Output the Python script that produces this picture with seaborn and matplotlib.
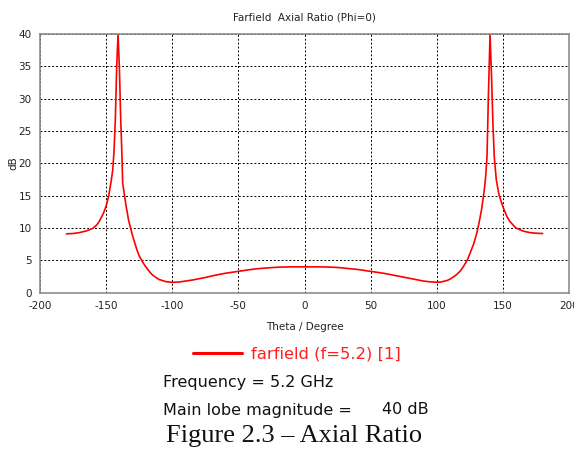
import matplotlib
matplotlib.use("Agg")
import matplotlib.pyplot as plt
import seaborn as sns
import pandas as pd

# Axial ratio (dB) versus theta (deg), Phi = 0 cut at f = 5.2 GHz
theta = [-180, -175, -170, -165, -160, -157, -155, -152, -150, -148, -146, -145,
         -144, -143, -142, -141, -140, -139, -138, -137.5, -135, -133, -130, -127,
         -125, -122, -120, -117, -115, -112, -110, -105, -100, -95, -90, -85, -80,
         -75, -70, -65, -60, -55, -50, -45, -40, -35, -30, -25, -20, -15, -10, -5,
         0, 5, 10, 15, 20, 25, 30, 35, 40, 45, 50, 55, 60, 65, 70, 75, 80, 85, 90,
         95, 100, 103, 105, 108, 110, 113, 115, 118, 120, 123, 125, 128, 130, 132,
         134, 136, 137, 138, 139, 140.3, 141.5, 142.5, 143.5, 145, 147, 150, 153,
         155, 158, 160, 165, 170, 175, 180]
axial_ratio = [9.1, 9.15, 9.3, 9.55, 9.95, 10.5, 11.1, 12.3, 13.4, 15.0, 17.5, 19.0,
               22.0, 27.0, 35.0, 40.0, 35.0, 27.0, 21.0, 17.0, 13.5, 11.2, 8.8, 6.8,
               5.7, 4.6, 4.0, 3.2, 2.75, 2.3, 2.05, 1.72, 1.6, 1.65, 1.8, 1.95, 2.15,
               2.35, 2.6, 2.8, 3.0, 3.15, 3.3, 3.45, 3.6, 3.72, 3.8, 3.88, 3.94, 3.97,
               4.0, 4.0, 4.0, 4.0, 4.0, 3.98, 3.95, 3.9, 3.8, 3.7, 3.6, 3.45, 3.3,
               3.15, 3.0, 2.8, 2.6, 2.4, 2.2, 2.0, 1.8, 1.68, 1.62, 1.65, 1.75, 1.9,
               2.1, 2.5, 2.8, 3.4, 4.0, 5.0, 6.0, 7.6, 9.0, 10.8, 13.0, 16.0, 18.0,
               21.0, 30.0, 40.0, 33.0, 26.0, 21.0, 17.5, 15.2, 13.3, 11.8, 11.1, 10.4,
               10.0, 9.55, 9.3, 9.2, 9.15]

x_ticks = [-200, -150, -100, -50, 0, 50, 100, 150, 200]
y_ticks = [0, 5, 10, 15, 20, 25, 30, 35, 40]

series_label = "farfield (f=5.2) [1]"
plot_title = "Farfield  Axial Ratio (Phi=0)"
x_label = "Theta / Degree"
y_label = "dB"
info_lines = ["Frequency = 5.2 GHz", "Main lobe magnitude =", "40 dB"]
caption = "Figure 2.3 \u2013 Axial Ratio"

df = pd.DataFrame({"theta": theta, "ar": axial_ratio})

sns.set_style("white")
plt.rcParams["font.family"] = ["DejaVu Sans"]

fig = plt.figure(figsize=(5.74, 4.5), dpi=100)
ax = fig.add_axes([40 / 574, 1 - 292.7 / 450, 529 / 574, (292.7 - 34) / 450])

sns.lineplot(data=df, x="theta", y="ar", color="#ff0000", linewidth=1.2,
             sort=False, ax=ax, label=series_label, legend=False)

ax.set_xlim(-200, 200)
ax.set_ylim(0, 40)
ax.set_xticks(x_ticks)
ax.set_yticks(y_ticks)

small = dict(family="Liberation Sans Narrow", size=7.5, color="#222222")
ax.set_xticklabels([str(t) for t in x_ticks], fontdict=small)
ax.set_yticklabels([str(t) for t in y_ticks], fontdict=small)
ax.tick_params(axis="both", direction="out", length=3, width=0.8,
               color="#808080", pad=3)

ax.grid(True, color="black", linewidth=0.7, linestyle=(0, (2, 2)))
for side, sp in ax.spines.items():
    sp.set_visible(True)
    sp.set_color("#8c8c8c")
    sp.set_linewidth(1.2)

ax.set_title(plot_title, fontdict=small, pad=10)
ax.set_xlabel(x_label, fontdict=small, labelpad=8)
ax.set_ylabel(y_label, fontdict=small, labelpad=0)

# legend and result summary below the plot
handles, labels = ax.get_legend_handles_labels()
leg = fig.legend(handles, labels, loc="center left",
                 bbox_to_anchor=(186 / 574, 1 - 354 / 450), frameon=False,
                 handlelength=3.0, handletextpad=0.55, borderaxespad=0,
                 prop={"family": "DejaVu Sans", "size": 11.8})
for txt in leg.get_texts():
    txt.set_color("#ff2020")
for ln in leg.get_lines():
    ln.set_linewidth(2.2)

info_font = dict(family="DejaVu Sans", size=11.5, color="#111111")
fig.text(163 / 574, 1 - 382 / 450, info_lines[0], ha="left", va="center", **info_font)
fig.text(163 / 574, 1 - 410 / 450, info_lines[1], ha="left", va="center", **info_font)
fig.text(429 / 574, 1 - 410 / 450, info_lines[2], ha="right", va="center", **info_font)
fig.text(294.5 / 574, 1 - 436 / 450, caption, ha="center", va="center",
         family="Liberation Serif", size=19, color="#111111")

fig.savefig("out.png", dpi=100)
